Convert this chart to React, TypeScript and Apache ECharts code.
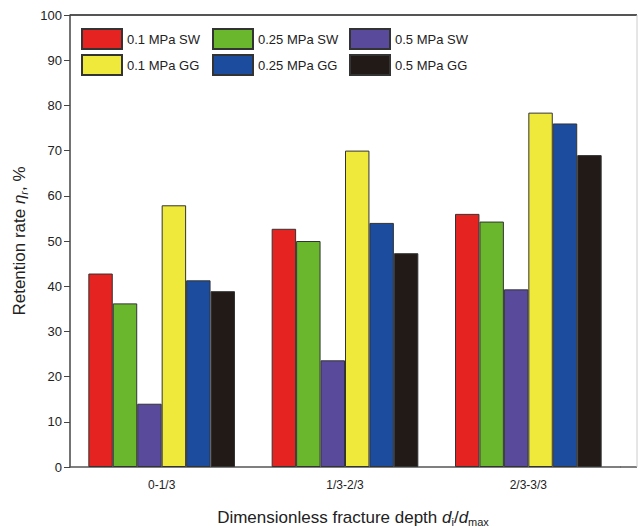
import React, { useEffect, useRef } from "react";
import * as echarts from "echarts";

const categories = ["0-1/3", "1/3-2/3", "2/3-3/3"];
const seriesNames = [
  "0.1 MPa SW",
  "0.25 MPa SW",
  "0.5 MPa SW",
  "0.1 MPa GG",
  "0.25 MPa GG",
  "0.5 MPa GG",
];
const sw01 = [42.8, 52.7, 56.0];
const sw025 = [36.2, 50.0, 54.3];
const sw05 = [14.0, 23.6, 39.3];
const gg01 = [57.9, 70.0, 78.4];
const gg025 = [41.3, 54.0, 76.0];
const gg05 = [38.9, 47.3, 69.0];
const seriesValues = [sw01, sw025, sw05, gg01, gg025, gg05];
const seriesColors = ["#e52421", "#6ab72e", "#5a4a9c", "#efe93c", "#1b4c9e", "#221a17"];
const yTicks = { min: 0, max: 100, interval: 10 };

const FONT = "'Liberation Sans', Arial, sans-serif";

export default function App() {
  const ref = useRef<HTMLDivElement>(null);

  useEffect(() => {
    if (!ref.current) return;
    const chart = echarts.init(ref.current, undefined, { renderer: "svg" });

    const legendCol = (names: string[], left: number) => ({
      data: names,
      orient: "vertical",
      left,
      top: 28,
      padding: 0,
      itemWidth: 40,
      itemHeight: 20,
      itemGap: 4,
      icon: "rect",
      selectedMode: false,
      textStyle: { fontFamily: FONT, fontSize: 13, color: "#222" },
    });

    chart.setOption({
      animation: false,
      backgroundColor: "#fff",
      textStyle: { fontFamily: FONT },
      grid: {
        left: 70,
        top: 15,
        width: 550,
        height: 452,
        containLabel: false,
        outerBoundsMode: "none",
      },
      legend: [
        legendCol([seriesNames[0], seriesNames[3]], 81),
        legendCol([seriesNames[1], seriesNames[4]], 212),
        legendCol([seriesNames[2], seriesNames[5]], 349),
      ],
      xAxis: {
        type: "category",
        data: categories,
        axisLine: { lineStyle: { color: "#555", width: 1.5 } },
        axisTick: { alignWithLabel: true, length: 6, lineStyle: { color: "#444" } },
        axisLabel: { fontFamily: FONT, fontSize: 12, color: "#222", margin: 12 },
        name: "Dimensionless fracture depth {i|d}{sub|i}/{i|d}{sub|max}",
        nameLocation: "middle",
        nameGap: 40,
        nameTextStyle: {
          fontFamily: FONT,
          fontSize: 17,
          color: "#222",
          padding: [0, 0, 0, 16],
          rich: {
            i: { fontFamily: FONT, fontSize: 17, fontStyle: "italic", color: "#222" },
            sub: {
              fontFamily: FONT,
              fontSize: 11,
              color: "#222",
              verticalAlign: "bottom",
              padding: [9, 0, 0, 0],
            },
          },
        },
      },
      yAxis: {
        type: "value",
        min: yTicks.min,
        max: yTicks.max,
        interval: yTicks.interval,
        splitLine: { show: false },
        axisLine: { show: true, lineStyle: { color: "#444", width: 1.5 } },
        axisTick: { show: true, length: 6, lineStyle: { color: "#444" } },
        axisLabel: { fontFamily: FONT, fontSize: 13, color: "#222", margin: 8 },
        name: "Retention rate {i|η}{sub|r}, %",
        nameLocation: "middle",
        nameRotate: 90,
        nameGap: 38,
        nameTextStyle: {
          fontFamily: FONT,
          fontSize: 17,
          color: "#222",
          rich: {
            i: { fontFamily: FONT, fontSize: 17, fontStyle: "italic", color: "#222" },
            sub: {
              fontFamily: FONT,
              fontSize: 11,
              fontStyle: "italic",
              color: "#222",
              verticalAlign: "bottom",
              padding: [9, 0, 0, 0],
            },
          },
        },
      },
      graphic: [
        {
          type: "line",
          shape: { x1: 70, y1: 15, x2: 637, y2: 15 },
          style: { stroke: "#555", lineWidth: 2 },
        },
        {
          type: "line",
          shape: { x1: 620, y1: 467, x2: 637, y2: 467 },
          style: { stroke: "#555", lineWidth: 1.5 },
        },
        {
          type: "line",
          shape: { x1: 637, y1: 15, x2: 637, y2: 467 },
          style: { stroke: "#ccc", lineWidth: 1 },
        },
      ],
      series: seriesNames.map((name, k) => ({
        name,
        type: "bar",
        data: seriesValues[k],
        barGap: "0%",
        barCategoryGap: "20%",
        itemStyle: { color: seriesColors[k], borderColor: "#333", borderWidth: 1 },
      })),
    });

    return () => chart.dispose();
  }, []);

  return (
    <div
      ref={ref}
      style={{ position: "absolute", left: 0, top: 0, width: 638, height: 530 }}
    />
  );
}
